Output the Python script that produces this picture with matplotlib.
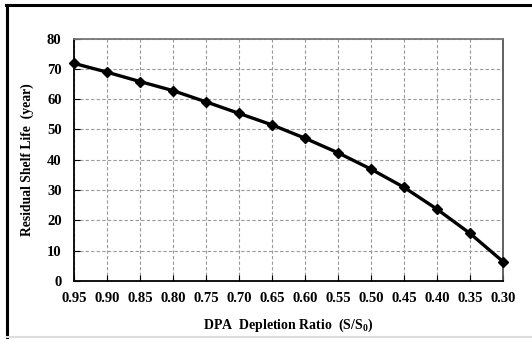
import numpy as np
import matplotlib.pyplot as plt
from matplotlib.lines import Line2D

# depletion ratio S/S0 and residual shelf life (year)
ratio = [0.95, 0.90, 0.85, 0.80, 0.75, 0.70, 0.65, 0.60, 0.55, 0.50, 0.45, 0.40, 0.35, 0.30]
life = [71.8, 68.9, 65.8, 62.8, 59.1, 55.3, 51.5, 47.1, 42.3, 36.9, 30.9, 23.7, 15.7, 6.4]
xtick_labels = [f"{r:.2f}" for r in ratio]
yticks = [0, 10, 20, 30, 40, 50, 60, 70, 80]

plt.rcParams['font.family'] = ['Liberation Serif', 'DejaVu Serif']
plt.rcParams['font.weight'] = 'bold'
plt.rcParams['mathtext.fontset'] = 'custom'
plt.rcParams['mathtext.rm'] = 'Liberation Serif'
plt.rcParams['mathtext.default'] = 'rm'

W, H = 532, 339
fig = plt.figure(figsize=(W / 100, H / 100), dpi=100)
ax = fig.add_axes([74 / W, 1 - 281 / H, (503 - 74) / W, (281 - 38.5) / H])

ax.plot(ratio, life, color='black', lw=2.4, marker='D', markersize=5,
        markerfacecolor='black', markeredgecolor='black', zorder=3, clip_on=False)

ax.set_xlim(0.95, 0.30)
ax.set_ylim(0, 80)
ax.set_xticks(ratio)
ax.set_xticklabels(xtick_labels)
ax.set_yticks(yticks)

ax.grid(True, color='#999999', linestyle=(0, (3, 2)), linewidth=0.8)
ax.set_axisbelow(True)
for s in ax.spines.values():
    s.set_linewidth(1.3)
    s.set_color('black')
ax.spines['top'].set_color('#777777')
ax.spines['right'].set_color('#555555')

ax.tick_params(direction='in', length=4, width=0.8, labelsize=10.5, pad=8)
ax.tick_params(axis='y', pad=9)
for lbl in ax.get_xticklabels() + ax.get_yticklabels():
    lbl.set_fontweight('bold')

ax.set_xlabel('DPA  Depletion Ratio  (S/S$_0$)', fontsize=10, fontweight='bold', labelpad=8)
ax.set_ylabel('Residual Shelf Life  (year)', fontsize=9.8, fontweight='bold', labelpad=9)

# frame around the picture
fig.add_artist(Line2D([6 / W, 1], [1 - 5 / H, 1 - 5 / H], color='black', lw=2.2))
fig.add_artist(Line2D([7 / W, 7 / W], [0, 1 - 5 / H], color='black', lw=2.2))
fig.add_artist(Line2D([7 / W, 1], [1 - 337 / H, 1 - 337 / H], color='#dddddd', lw=1.5))

fig.savefig('out.png', dpi=100)
